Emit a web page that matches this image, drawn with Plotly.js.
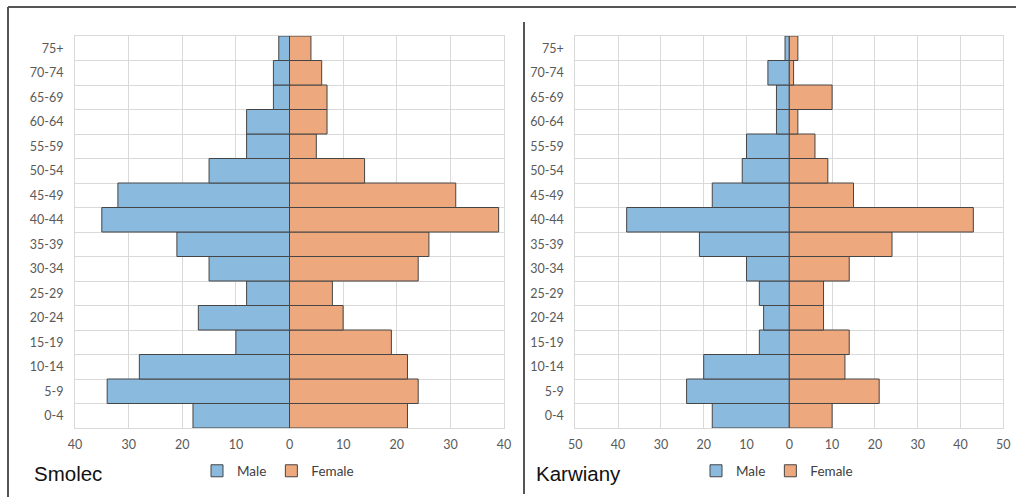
<!DOCTYPE html>
<html>
<head>
<meta charset="utf-8">
<script src="https://cdn.plot.ly/plotly-3.0.1.min.js"></script>
<style>
  html, body { margin: 0; padding: 0; background: #ffffff; }
  #chart { width: 1016px; height: 497px; }
</style>
</head>
<body>
<div id="chart"></div>
<script>
// Age groups, bottom to top
var ageGroups = ["0-4","5-9","10-14","15-19","20-24","25-29","30-34","35-39","40-44","45-49","50-54","55-59","60-64","65-69","70-74","75+"];

// Smolec
var smolecMale   = [18, 34, 28, 10, 17, 8, 15, 21, 35, 32, 15, 8, 8, 3, 3, 2];
var smolecFemale = [22, 24, 22, 19, 10, 8, 24, 26, 39, 31, 14, 5, 7, 7, 6, 4];

// Karwiany
var karwianyMale   = [18, 24, 20, 7, 6, 7, 10, 21, 38, 18, 11, 10, 3, 3, 5, 1];
var karwianyFemale = [10, 21, 13, 14, 8, 8, 14, 24, 43, 15, 9, 6, 2, 10, 1, 2];

var smolecTicks   = [-40, -30, -20, -10, 0, 10, 20, 30, 40];
var karwianyTicks = [-50, -40, -30, -20, -10, 0, 10, 20, 30, 40, 50];

var titles = ["Smolec", "Karwiany"];
var seriesNames = ["Male", "Female"];
var colors = ["#8BBADF", "#EDA87D"];

(function(){
  var W = 1016, H = 497;
  function neg(a){ return a.map(function(v){ return -v; }); }
  var lineStyle = {color: "#454545", width: 1};
  var tickFont = {family: "Lato, 'Noto Sans', sans-serif", size: 12.5, color: "#595959"};

  function mk(name, vals, color, xa, ya, leg, isMale) {
    return {
      type: "bar", orientation: "h", name: name,
      y: ageGroups, x: isMale ? neg(vals) : vals,
      xaxis: xa, yaxis: ya, legend: leg,
      marker: {color: color, line: lineStyle},
      hoverinfo: "skip"
    };
  }

  var data = [
    mk(seriesNames[0], smolecMale, colors[0], "x", "y", "legend", true),
    mk(seriesNames[1], smolecFemale, colors[1], "x", "y", "legend", false),
    mk(seriesNames[0], karwianyMale, colors[0], "x2", "y2", "legend2", true),
    mk(seriesNames[1], karwianyFemale, colors[1], "x2", "y2", "legend2", false)
  ];

  var yTop = 1 - 36 / H, yBot = 1 - 428 / H;

  function xAxis(dom, ticks) {
    return {
      domain: dom, range: [ticks[0], ticks[ticks.length - 1]],
      tickvals: ticks, ticktext: ticks.map(function(v){ return String(Math.abs(v)); }),
      showgrid: true, gridcolor: "#D9D9D9", gridwidth: 1,
      zeroline: false, showline: true, mirror: true, linecolor: "#D9D9D9",
      ticks: "", ticklabelstandoff: 5, tickfont: tickFont, fixedrange: true
    };
  }
  function yAxis(anchor) {
    return {
      domain: [yBot, yTop], type: "category", anchor: anchor,
      categoryorder: "array", categoryarray: ageGroups,
      tickson: "boundaries", showgrid: true, gridcolor: "#D9D9D9", gridwidth: 1,
      showline: true, mirror: true, linecolor: "#D9D9D9",
      ticks: "", ticklabelstandoff: 8, tickfont: tickFont, fixedrange: true
    };
  }

  var legendCommon = {
    orientation: "h", yanchor: "middle", xanchor: "center", y: 1 - 471 / H,
    font: {family: "Lato, 'Noto Sans', sans-serif", size: 13.5, color: "#404040"},
    bgcolor: "rgba(0,0,0,0)", itemwidth: 30, tracegroupgap: 0
  };

  var layout = {
    width: W, height: H,
    margin: {l: 0, r: 0, t: 0, b: 0},
    paper_bgcolor: "#ffffff", plot_bgcolor: "#ffffff",
    barmode: "relative", bargap: 0,
    showlegend: true,
    xaxis: xAxis([75 / W, 504 / W], smolecTicks),
    yaxis: yAxis("x"),
    xaxis2: xAxis([575.3 / W, 1003.3 / W], karwianyTicks),
    yaxis2: yAxis("x2"),
    legend: Object.assign({}, legendCommon, {x: 278 / W}),
    legend2: Object.assign({}, legendCommon, {x: 777 / W}),
    annotations: [
      {text: titles[0], xref: "paper", yref: "paper", x: 32 / W, y: 1 - 473 / H,
       xanchor: "left", yanchor: "middle", showarrow: false,
       font: {family: "'Liberation Sans', Arial, sans-serif", size: 20.5, color: "#111111"}},
      {text: titles[1], xref: "paper", yref: "paper", x: 534 / W, y: 1 - 473 / H,
       xanchor: "left", yanchor: "middle", showarrow: false,
       font: {family: "'Liberation Sans', Arial, sans-serif", size: 20.5, color: "#111111"}}
    ],
    shapes: [
      {type: "line", xref: "paper", yref: "paper", x0: 8 / W, x1: 1, y0: 1 - 7 / H, y1: 1 - 7 / H,
       line: {color: "#555555", width: 2}},
      {type: "line", xref: "paper", yref: "paper", x0: 8 / W, x1: 8 / W, y0: 1 - 7 / H, y1: 0,
       line: {color: "#555555", width: 2}},
      {type: "line", xref: "paper", yref: "paper", x0: 524 / W, x1: 524 / W, y0: 1 - 22 / H, y1: 1 - 494 / H,
       line: {color: "#555555", width: 2}}
    ]
  };

  Plotly.newPlot("chart", data, layout, {displayModeBar: false, staticPlot: true});
})();
</script>
</body>
</html>
